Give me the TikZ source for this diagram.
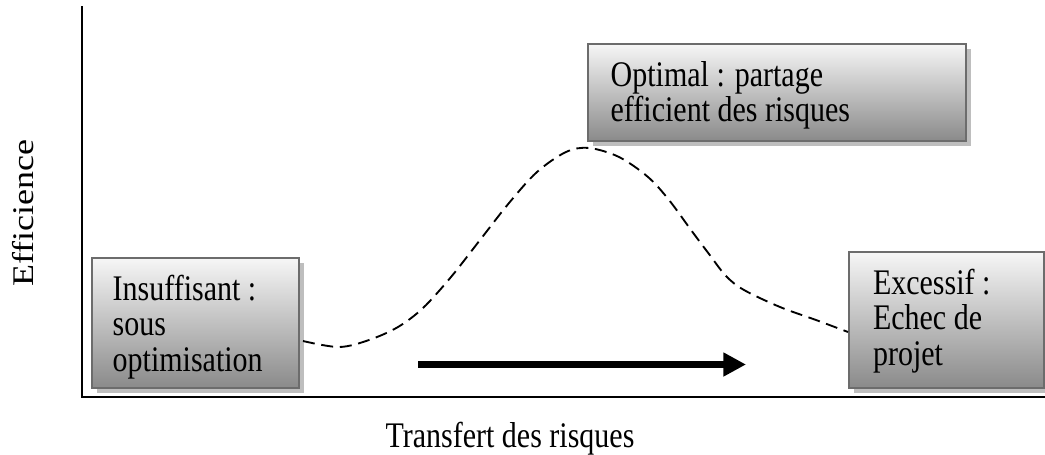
\documentclass[tikz,border=0pt]{standalone}
\usepackage{fontspec}
\usepackage{graphicx}
\setmainfont{Liberation Serif}
\usetikzlibrary{shadows,arrows.meta}

\definecolor{boxedge}{RGB}{108,108,108}
\definecolor{boxtop}{RGB}{246,246,246}
\definecolor{boxbottom}{RGB}{138,138,138}
\definecolor{boxshadow}{RGB}{190,190,190}

% text block of a labelled box, set slightly tall:
% width, (height / 1.2), left inset, lines
\newcommand{\boxlines}[4]{%
  \scalebox{1}[1.2]{\parbox[c][#2][t]{#1}{\fontsize{22.5}{22.2}\selectfont
    \lineskiplimit=-20pt\raggedright
    \leftskip=#3\relax\rule{0pt}{26.25pt}#4}}}
\newcommand{\tallword}[1]{\scalebox{1}[1.2]{#1}}
\newcommand{\longword}[1]{\scalebox{1.2}[1]{#1}}

\tikzset{
  labelbox/.style={draw=boxedge, line width=1.5pt,
    top color=boxtop, bottom color=boxbottom,
    inner sep=0pt, anchor=north west,
    drop shadow={shadow xshift=3.6pt, shadow yshift=-3.6pt,
                 fill=boxshadow, opacity=1}},
  axisline/.style={line width=1.5pt},
  riskcurve/.style={line width=1.4pt, dash pattern=on 9pt off 5pt},
  bigarrow/.style={line width=5.6pt, -{Triangle[length=17pt,width=17pt]}},
  axislabel/.style={font=\fontsize{22.5}{27}\selectfont, inner sep=0pt}
}

\begin{document}
\begin{tikzpicture}[x=0.75pt,y=-0.75pt]
\useasboundingbox (0,0) rectangle (1045,454);

% axes
\coordinate (ytop) at (82,6);
\coordinate (origin) at (82,397);
\coordinate (xend) at (1046,397);
\draw[axisline] (ytop) -- (origin) -- (xend);

% axis labels
\node[axislabel, rotate=90, anchor=base] (ylab) at (33,213) {\longword{Efficience}};
\node[axislabel, anchor=base] (xlab) at (510,447) {\tallword{Transfert des risques}};

% labelled boxes
\node[labelbox] (low) at (91,257)
  {\boxlines{155.25pt}{81.25pt}{15.5pt}{Insuffisant :\\ sous\\ optimisation}};
\node[labelbox] (opt) at (587,43)
  {\boxlines{283.5pt}{60.625pt}{17pt}{Optimal : partage\\ efficient des risques}};
\node[labelbox] (high) at (848,251)
  {\boxlines{146.25pt}{85pt}{18pt}{Excessif :\\ Echec de\\ projet}};

% efficiency curve
\draw[riskcurve] plot[smooth, tension=0.55] coordinates {
  (303,341) (339,347) (369,340) (398,327) (423,308) (451,277)
  (480,240) (509,203) (537,172) (566,152) (589,148) (619,157)
  (648,177) (669,200) (691,230) (709,254) (726,276) (744,290)
  (780,307) (816,320) (848,332)};

% direction of increasing transfer
\coordinate (arrA) at (418,364.5);
\coordinate (arrB) at (746,364.5);
\draw[bigarrow] (arrA) -- (arrB);
\end{tikzpicture}
\end{document}
